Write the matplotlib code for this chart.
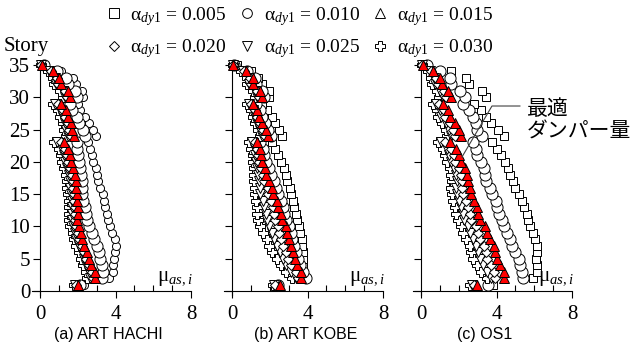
import numpy as np
import matplotlib.pyplot as plt
from matplotlib.lines import Line2D
from matplotlib.ticker import MultipleLocator

plt.rcParams['font.family'] = ['Liberation Serif', 'DejaVu Serif']
plt.rcParams['mathtext.fontset'] = 'custom'
plt.rcParams['mathtext.rm'] = 'Liberation Serif'
plt.rcParams['mathtext.it'] = 'Liberation Serif:italic'

# story 1 .. 35
stories = list(range(1, 36))
alphas = ['0.005', '0.010', '0.015', '0.020', '0.025', '0.030']
titles = ['(a) ART HACHI', '(b) ART KOBE', '(c) OS1']

# (a) ART HACHI
hachi_005 = [2.35, 3.65, 3.88, 3.88, 3.93, 3.97, 4.0, 3.97, 3.84, 3.7, 3.58, 3.53, 3.44, 3.39, 3.32, 3.17, 3.05, 3.03,
             2.95, 2.82, 2.73, 2.65, 2.56, 2.95, 2.79, 2.61, 2.38, 2.12, 2.03, 2.26, 2.2, 1.9, 1.76, 1.11, 0.26]
hachi_010 = [2.12, 3.26, 3.35, 3.28, 3.17, 3.14, 3.0, 2.87, 2.73, 2.59, 2.5, 2.43, 2.38, 2.29, 2.24, 2.2, 2.2, 2.17,
             2.12, 2.06, 2.03, 1.98, 1.94, 2.38, 2.26, 2.08, 1.94, 1.7, 1.6, 1.95, 1.85, 1.5, 1.4, 0.9, 0.2]
hachi_015 = [2.0, 2.94, 2.89, 2.72, 2.61, 2.5, 2.35, 2.23, 2.19, 2.05, 1.98, 2.0, 2.0, 1.98, 1.98, 1.9, 1.89, 1.85,
             1.73, 1.62, 1.59, 1.46, 1.27, 1.8, 1.69, 1.62, 1.5, 1.38, 1.11, 1.59, 1.46, 1.11, 1.02, 0.67, 0.09]
hachi_020 = [1.9, 2.8, 2.75, 2.58, 2.46, 2.35, 2.2, 2.08, 2.03, 1.9, 1.83, 1.84, 1.83, 1.82, 1.82, 1.75, 1.73, 1.69,
             1.58, 1.47, 1.43, 1.3, 1.1, 1.65, 1.54, 1.47, 1.35, 1.22, 0.95, 1.45, 1.32, 0.98, 0.9, 0.58, 0.07]
hachi_025 = [1.85, 2.65, 2.6, 2.43, 2.32, 2.2, 2.05, 1.93, 1.88, 1.75, 1.68, 1.69, 1.68, 1.67, 1.66, 1.6, 1.58, 1.54,
             1.43, 1.32, 1.28, 1.15, 0.92, 1.5, 1.4, 1.33, 1.21, 1.08, 0.82, 1.32, 1.2, 0.86, 0.8, 0.5, 0.05]
hachi_030 = [1.8, 2.5, 2.45, 2.28, 2.17, 2.05, 1.9, 1.78, 1.73, 1.6, 1.53, 1.54, 1.53, 1.52, 1.5, 1.45, 1.43, 1.39,
             1.28, 1.17, 1.13, 1.0, 0.75, 1.36, 1.26, 1.2, 1.08, 0.96, 0.7, 1.2, 1.08, 0.75, 0.7, 0.42, 0.04]

# (b) ART KOBE
kobe_005 = [2.35, 3.74, 3.78, 3.78, 3.77, 3.74, 3.7, 3.7, 3.62, 3.53, 3.44, 3.39, 3.3, 3.25, 3.12, 3.05, 2.9, 2.86,
            2.73, 2.6, 2.43, 2.26, 2.1, 2.63, 2.5, 2.3, 2.1, 1.85, 1.6, 1.95, 1.95, 1.6, 1.4, 1.0, 0.25]
kobe_010 = [2.45, 3.9, 3.75, 3.6, 3.5, 3.4, 3.3, 3.2, 3.1, 3.0, 2.85, 2.78, 2.68, 2.6, 2.42, 2.35, 2.2, 2.05,
            1.95, 1.8, 1.72, 1.65, 1.5, 2.05, 1.92, 1.75, 1.6, 1.48, 1.25, 1.72, 1.6, 1.25, 1.2, 0.82, 0.12]
kobe_015 = [2.54, 3.67, 3.65, 3.47, 3.33, 3.24, 3.12, 3.02, 2.92, 2.85, 2.65, 2.57, 2.45, 2.38, 2.18, 2.14, 1.95, 1.82,
            1.75, 1.59, 1.52, 1.48, 1.34, 1.92, 1.78, 1.61, 1.45, 1.34, 1.13, 1.59, 1.48, 1.13, 1.09, 0.74, 0.07]
kobe_020 = [2.3, 3.5, 3.4, 3.15, 2.95, 2.85, 2.72, 2.6, 2.5, 2.42, 2.3, 2.25, 2.15, 2.08, 1.92, 1.9, 1.72, 1.62,
            1.55, 1.42, 1.36, 1.32, 1.2, 1.75, 1.62, 1.47, 1.32, 1.22, 1.0, 1.45, 1.34, 1.0, 0.98, 0.65, 0.06]
kobe_025 = [2.2, 3.4, 3.1, 2.85, 2.7, 2.55, 2.4, 2.25, 2.1, 1.95, 1.85, 1.8, 1.72, 1.65, 1.5, 1.5, 1.45, 1.4,
            1.35, 1.25, 1.22, 1.2, 1.08, 1.6, 1.47, 1.33, 1.2, 1.1, 0.9, 1.32, 1.22, 0.9, 0.88, 0.58, 0.05]
kobe_030 = [2.15, 3.2, 2.84, 2.59, 2.36, 2.13, 1.98, 1.84, 1.66, 1.48, 1.39, 1.35, 1.31, 1.27, 1.22, 1.2, 1.18, 1.16,
            1.15, 1.13, 1.1, 1.0, 0.92, 1.48, 1.36, 1.22, 1.1, 1.0, 0.8, 1.2, 1.1, 0.8, 0.78, 0.5, 0.04]

# (c) OS1
os1_005 = [3.8, 5.96, 6.17, 6.13, 6.1, 6.17, 6.13, 6.04, 5.96, 5.8, 5.69, 5.6, 5.45, 5.33, 5.18, 5.0, 4.85, 4.72,
           4.62, 4.45, 4.24, 4.0, 3.76, 4.4, 4.1, 3.72, 3.44, 3.17, 2.8, 3.44, 3.23, 2.56, 2.4, 1.57, 0.25]
os1_010 = [3.54, 5.4, 5.36, 5.27, 5.18, 5.0, 4.83, 4.69, 4.57, 4.39, 4.27, 4.13, 4.04, 3.95, 3.77, 3.63, 3.46, 3.39,
           3.33, 3.16, 2.98, 2.89, 2.77, 3.25, 2.98, 2.89, 2.77, 2.55, 2.2, 2.31, 2.04, 1.6, 1.55, 1.0, 0.3]
os1_015 = [2.99, 4.39, 4.39, 4.18, 4.0, 3.92, 3.86, 3.65, 3.51, 3.39, 3.12, 3.03, 2.98, 2.82, 2.65, 2.59, 2.48, 2.42,
           2.33, 2.12, 2.03, 1.85, 1.53, 2.12, 2.01, 1.8, 1.53, 1.44, 1.18, 1.59, 1.44, 1.09, 1.0, 0.65, 0.09]
os1_020 = [2.8, 3.9, 3.85, 3.7, 3.5, 3.42, 3.35, 3.15, 3.02, 2.9, 2.65, 2.58, 2.5, 2.38, 2.22, 2.17, 2.15, 2.1,
           2.0, 1.82, 1.74, 1.58, 1.28, 1.82, 1.72, 1.53, 1.28, 1.2, 0.96, 1.33, 1.2, 0.88, 0.82, 0.55, 0.07]
os1_025 = [2.7, 3.7, 3.5, 3.3, 3.1, 3.0, 2.92, 2.75, 2.6, 2.48, 2.28, 2.2, 2.12, 2.02, 1.9, 1.85, 1.9, 1.85,
           1.75, 1.58, 1.5, 1.36, 1.08, 1.6, 1.5, 1.32, 1.08, 1.0, 0.8, 1.15, 1.03, 0.73, 0.68, 0.46, 0.05]
os1_030 = [2.6, 3.5, 3.2, 2.95, 2.75, 2.65, 2.58, 2.4, 2.25, 2.12, 1.95, 1.88, 1.82, 1.72, 1.62, 1.58, 1.65, 1.6,
           1.52, 1.36, 1.28, 1.15, 0.88, 1.4, 1.3, 1.12, 0.9, 0.83, 0.65, 0.98, 0.87, 0.6, 0.55, 0.38, 0.04]

panel_data = [
    [hachi_005, hachi_010, hachi_015, hachi_020, hachi_025, hachi_030],
    [kobe_005, kobe_010, kobe_015, kobe_020, kobe_025, kobe_030],
    [os1_005, os1_010, os1_015, os1_020, os1_025, os1_030],
]

# marker style per series (index into alphas)
markers = ['s', 'o', '^', 'D', 'v', 'P']
msizes = [5.8, 8.0, 7.8, 5.0, 6.5, 7.0]
legend_sizes = [6.5, 7.0, 7.0, 5.5, 6.5, 7.0]
draw_order = [0, 1, 5, 4, 3, 2]

W, H = 632, 352
fig = plt.figure(figsize=(W / 100, H / 100), dpi=100)

sx = 18.875          # px per unit of mu
sy = 6.457           # px per story
x_zero = [40, 232, 421]
y_zero = 291
xmin, xmax = -0.4, 8.0
ymin, ymax = -0.6, 35.3

axes = []
for k, x0 in enumerate(x_zero):
    left = x0 + xmin * sx
    bottom = y_zero - ymin * sy
    top = y_zero - ymax * sy
    ax = fig.add_axes([left / W, (H - bottom) / H, (xmax - xmin) * sx / W, (bottom - top) / H])
    ax.set_xlim(xmin, xmax)
    ax.set_ylim(ymin, ymax)
    for s in ['top', 'right']:
        ax.spines[s].set_visible(False)
    ax.spines['left'].set_position(('data', 0))
    ax.spines['bottom'].set_position(('data', 0))
    ax.spines['left'].set_bounds(ymin, 35)
    ax.spines['bottom'].set_bounds(xmin, 8)
    ax.xaxis.set_major_locator(MultipleLocator(4))
    ax.xaxis.set_minor_locator(MultipleLocator(1))
    ax.yaxis.set_major_locator(MultipleLocator(5))
    ax.tick_params(axis='x', which='major', direction='out', length=5, width=0.8, labelsize=15, pad=5)
    ax.tick_params(axis='x', which='minor', direction='in', length=4, width=0.8)
    ax.tick_params(axis='y', which='major', direction='out', length=5, width=0.8, labelsize=15, pad=2,
                   labelleft=(k == 0))
    ax.patch.set_visible(False)

    series = panel_data[k]
    for i in draw_order:
        m = markers[i]
        if k == 0 and i == 0:
            m = 'o'
        if i == 2:
            ax.plot(series[i], stories, ls='none', marker=m, ms=msizes[i], mfc='#ff0000', mec='black',
                    mew=0.7, clip_on=False, zorder=5)
        else:
            ax.plot(series[i], stories, ls='none', marker=m, ms=msizes[i], mfc='white', mec='black',
                    mew=0.7, clip_on=False, zorder=3)

    ax.text(8.1, 0.5, r'$\mathrm{μ}_{as,i}$', ha='right', va='bottom', fontsize=15)
    axes.append(ax)

# panel titles
title_x = [108, 306, 485]
for tx, t in zip(title_x, titles):
    fig.text(tx / W, 1 - 335 / H, t, ha='center', va='center', fontsize=11.5,
             family=['Liberation Sans', 'DejaVu Sans'])

fig.text(4 / W, 1 - 47 / H, 'Story', ha='left', va='center', fontsize=15)

# legend
handles = []
labels = []
for i in [0, 3, 1, 4, 2, 5]:
    handles.append(Line2D([], [], ls='none', marker=markers[i], ms=legend_sizes[i], mfc='white', mec='black',
                          mew=0.7))
    labels.append(r'$\mathrm{α}_{dy\mathrm{1}}$ = ' + alphas[i])
fig.legend(handles, labels, ncol=3, frameon=False, loc='upper left', bbox_to_anchor=(102 / W, 1 - 3 / H),
           fontsize=14, handlelength=1.0, handletextpad=0.35, columnspacing=0.55, labelspacing=0.5,
           borderaxespad=0.0, borderpad=0.1)

# optimal damper annotation
axc = axes[2]
axc.plot([2.17, 3.76, 5.24], [20.75, 28.65, 28.65], color='#404040', lw=0.8, clip_on=False, zorder=6)
fig.text(527 / W, 1 - 120 / H, '最適\nダンパー量', ha='left', va='center', fontsize=15, linespacing=1.05,
         family=['Noto Sans CJK JP', 'DejaVu Sans'])

fig.savefig('out.png', dpi=100)
